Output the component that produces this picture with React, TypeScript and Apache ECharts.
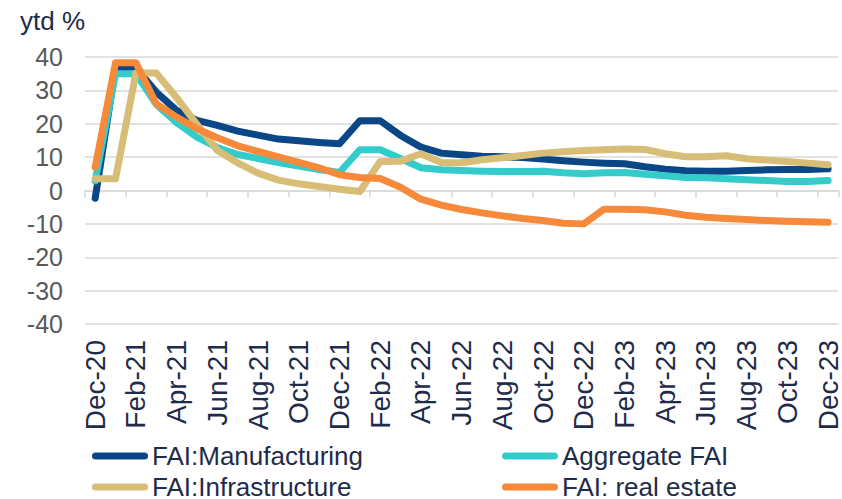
import React, { useEffect, useRef } from "react";
import * as echarts from "echarts";

const categories = [
  "Dec-20", "Jan-21", "Feb-21", "Mar-21", "Apr-21", "May-21", "Jun-21", "Jul-21", "Aug-21", "Sep-21", "Oct-21", "Nov-21",
  "Dec-21", "Jan-22", "Feb-22", "Mar-22", "Apr-22", "May-22", "Jun-22", "Jul-22", "Aug-22", "Sep-22", "Oct-22", "Nov-22",
  "Dec-22", "Jan-23", "Feb-23", "Mar-23", "Apr-23", "May-23", "Jun-23", "Jul-23", "Aug-23", "Sep-23", "Oct-23", "Nov-23",
  "Dec-23",
];

const manufacturing = [
  -2.3, 36.8, 36.8, 29.5, 24.0, 21.0, 19.5, 17.8, 16.6, 15.4, 14.9, 14.4,
  14.0, 20.9, 20.9, 16.5, 13.0, 11.2, 10.7, 10.3, 10.1, 9.9, 9.4, 8.9,
  8.5, 8.2, 8.0, 7.1, 6.4, 5.9, 5.8, 5.8, 6.0, 6.2, 6.3, 6.3,
  6.5,
];

const aggregateFAI = [
  2.9, 35.0, 35.0, 25.8, 20.3, 16.0, 12.9, 10.8, 9.6, 8.4, 7.3, 6.3,
  5.4, 12.2, 12.2, 9.6, 6.8, 6.2, 6.0, 5.8, 5.7, 5.7, 5.8, 5.3,
  5.0, 5.3, 5.4, 4.9, 4.4, 3.9, 3.8, 3.5, 3.2, 3.0, 2.7, 2.7,
  3.0,
];

const infrastructure = [
  3.5, 3.5, 35.2, 35.2, 27.8, 19.8, 12.0, 8.3, 5.2, 3.1, 2.0, 1.2,
  0.4, -0.3, 8.7, 8.8, 11.0, 8.4, 8.3, 9.2, 9.8, 10.5, 11.2, 11.6,
  12.0, 12.2, 12.4, 12.3, 11.0, 10.1, 10.1, 10.4, 9.5, 9.1, 8.7, 8.2,
  7.7,
];

const realEstate = [
  7.0, 38.3, 38.3, 26.0, 22.0, 18.5, 15.8, 13.4, 11.7, 10.1, 8.4, 6.8,
  4.7, 3.9, 3.6, 1.0, -2.6, -4.4, -5.7, -6.7, -7.6, -8.4, -9.0, -9.8,
  -10.0, -5.6, -5.6, -5.8, -6.4, -7.4, -8.0, -8.4, -8.7, -9.0, -9.2, -9.4,
  -9.5,
];

const seriesNames = ["FAI:Manufacturing", "Aggregate FAI", "FAI:Infrastructure", "FAI: real estate"];
const seriesColors = ["#0b4686", "#33cccb", "#d7bd76", "#f68a3a"];
const yTicks = { min: -40, max: 40, interval: 10 };

const FONT = "'Liberation Sans', Arial, sans-serif";
const NAVY = "#1f2b4a";
const GRID = "#d9d9d9";
const PILL = "path://M3.5,0 H52.5 A3.5,3.5 0 0 1 52.5,7 H3.5 A3.5,3.5 0 0 1 3.5,0 Z";

export default function App() {
  const ref = useRef<HTMLDivElement>(null);

  useEffect(() => {
    if (!ref.current) return;
    const chart = echarts.init(ref.current, undefined, { renderer: "svg" });
    const dataSets = [manufacturing, aggregateFAI, infrastructure, realEstate];
    const legendPos = [
      { left: 92, top: 443 },
      { left: 502, top: 443 },
      { left: 92, top: 474 },
      { left: 502, top: 474 },
    ];
    chart.setOption({
      animation: false,
      title: {
        text: "ytd %",
        left: 20,
        top: 8,
        padding: 0,
        textStyle: { fontSize: 26, fontWeight: "normal", color: NAVY, fontFamily: FONT },
      },
      grid: { left: 85, right: -3, top: 57, height: 267, containLabel: false },
      legend: seriesNames.map((name, i) => ({
        data: [{ name, icon: PILL }],
        left: legendPos[i].left,
        top: legendPos[i].top,
        padding: 0,
        itemWidth: 56,
        itemHeight: 7,
        textStyle: { fontSize: 26, lineHeight: 23, color: NAVY, fontFamily: FONT, padding: [0, 0, 0, -1] },
        selectedMode: false,
      })),
      xAxis: [
        {
          type: "category",
          data: categories,
          boundaryGap: true,
          position: "bottom",
          axisLine: { show: false, onZero: false },
          axisTick: { show: false },
          splitLine: { show: false },
          axisLabel: {
            interval: 1,
            rotate: 90,
            margin: 16,
            fontSize: 28,
            color: NAVY,
            fontFamily: FONT,
          },
        },
        {
          type: "category",
          data: categories,
          boundaryGap: true,
          position: "bottom",
          axisLine: { show: true, onZero: true, lineStyle: { color: GRID, width: 1.5 } },
          axisTick: { show: true, interval: 1, length: 7, lineStyle: { color: GRID, width: 1.5 } },
          axisLabel: { show: false },
          splitLine: { show: false },
        },
      ],
      yAxis: {
        type: "value",
        min: yTicks.min,
        max: yTicks.max,
        interval: yTicks.interval,
        axisLine: { show: false },
        axisTick: { show: false },
        splitLine: { show: true, lineStyle: { color: GRID, width: 1.5 } },
        axisLabel: { fontSize: 25, color: "#595959", margin: 22, fontFamily: FONT },
      },
      series: seriesNames.map((name, i) => ({
        name,
        type: "line",
        xAxisIndex: 0,
        data: dataSets[i],
        symbol: "none",
        color: seriesColors[i],
        lineStyle: { width: 7, color: seriesColors[i], cap: "round", join: "round" },
        z: 2 + i,
      })),
    });
    return () => chart.dispose();
  }, []);

  return <div ref={ref} style={{ width: 842, height: 499, position: "absolute", left: 0, top: 0 }} />;
}
